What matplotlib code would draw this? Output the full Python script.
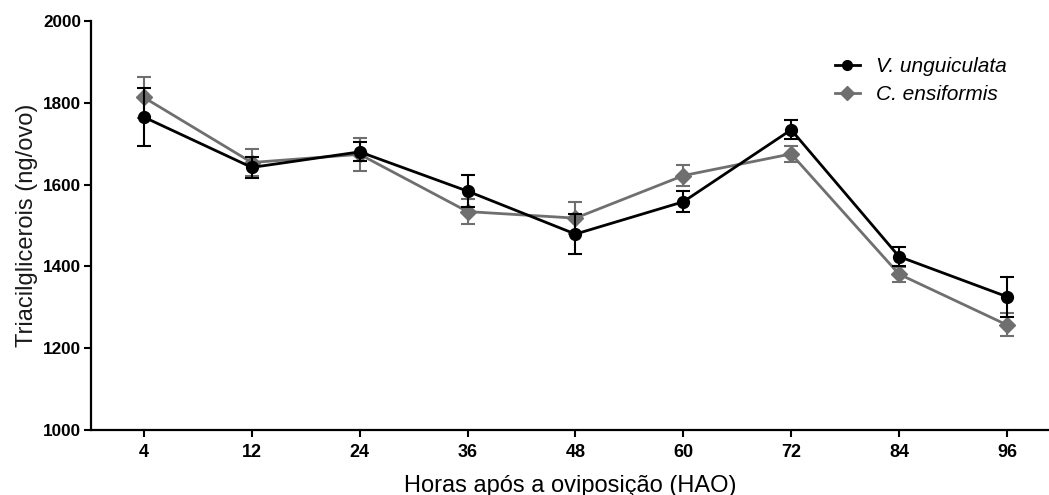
import matplotlib
matplotlib.use('Agg')
import matplotlib.pyplot as plt
from matplotlib.lines import Line2D
import numpy as np

plt.rcParams['font.family'] = ['Liberation Sans', 'DejaVu Sans']

# Horas após a oviposição
hours = ["4", "12", "24", "36", "48", "60", "72", "84", "96"]

# Triacilglicerois (ng/ovo), média e erro padrão
vigna_mean = [1765, 1642, 1680, 1584, 1479, 1558, 1734, 1424, 1326]
vigna_err = [70, 25, 23, 39, 49, 26, 23, 24, 49]
canav_mean = [1813, 1654, 1674, 1534, 1518, 1622, 1675, 1381, 1257]
canav_err = [49, 33, 40, 30, 39, 25, 19, 18, 28]

GRAY = "#6f6f6f"

fig = plt.figure(figsize=(10.49, 4.95), dpi=100)
ax = fig.add_axes([0.0868, 0.1313, 0.9132, 0.8263])

x = np.arange(len(hours))

ax.errorbar(x, canav_mean, yerr=canav_err, color=GRAY, marker="D",
            markersize=8.5, linewidth=2, elinewidth=1.5, capsize=5,
            capthick=1.5, zorder=3)
ax.errorbar(x, vigna_mean, yerr=vigna_err, color="black", marker="o",
            markersize=8.5, linewidth=2, elinewidth=1.5, capsize=5,
            capthick=1.5, zorder=4)

ax.set_xlim(-0.49, 8.39)
ax.set_ylim(1000, 2000)
ax.set_yticks([1000, 1200, 1400, 1600, 1800, 2000])
ax.set_xticks(x)
ax.set_xticklabels(hours)

for side in ("top", "right"):
    ax.spines[side].set_visible(False)
for side in ("left", "bottom"):
    ax.spines[side].set_linewidth(1.6)

ax.tick_params(axis="both", direction="out", length=5, width=1.5, pad=2)
ax.tick_params(axis="y", labelsize=12.3)
ax.tick_params(axis="x", labelsize=13, pad=5)
for lab in ax.get_xticklabels() + ax.get_yticklabels():
    lab.set_fontweight("bold")

ax.set_xlabel("Horas após a oviposição (HAO)", fontsize=17, labelpad=10)
ax.set_ylabel("Triacilglicerois (ng/ovo)", fontsize=17, labelpad=4,
              color="#1a1a1a")

# legenda sem barras de erro
handles = [
    Line2D([], [], color="black", marker="o", markersize=7, linewidth=2),
    Line2D([], [], color=GRAY, marker="D", markersize=7, linewidth=2),
]
labels = ["V. unguiculata", "C. ensiformis"]
ax.legend(handles, labels, loc="upper right", bbox_to_anchor=(0.975, 0.958),
          frameon=False, prop={"style": "italic", "size": 15},
          handlelength=1.2, handletextpad=0.75, labelspacing=0.45)

fig.savefig("out.png", dpi=100)
